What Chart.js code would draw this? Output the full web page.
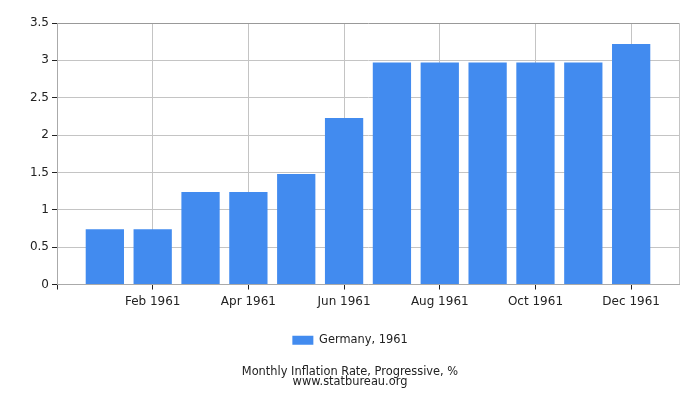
<!DOCTYPE html>
<html><head><meta charset="utf-8">
<script src="https://cdn.jsdelivr.net/npm/chart.js@4/dist/chart.umd.min.js"></script>
<style>html,body{margin:0;padding:0;background:#fff}#wrap{width:700px;height:400px}</style>
</head><body><div id="wrap"><canvas id="c" width="700" height="400"></canvas></div>
<script>
const months = ['Jan 1961','Feb 1961','Mar 1961','Apr 1961','May 1961','Jun 1961','Jul 1961','Aug 1961','Sep 1961','Oct 1961','Nov 1961','Dec 1961'];
const values = [0.74,0.74,1.24,1.24,1.48,2.23,2.97,2.97,2.97,2.97,2.97,3.22];
const xTickPositions = [-1,1,3,5,7,9,11,12];
const yTicks = [0,0.5,1,1.5,2,2.5,3,3.5];
const seriesLabel = 'Germany, 1961';
const titleLines = ['Monthly Inflation Rate, Progressive, %','www.statbureau.org'];

Chart.defaults.font.family = "'DejaVu Sans', sans-serif";
Chart.defaults.color = '#222';

new Chart(document.getElementById('c'), {
  type: 'bar',
  data: {
    datasets: [{
      label: seriesLabel,
      data: values.map((v, i) => ({x: i, y: v})),
      backgroundColor: '#428BEF',
      borderWidth: 0,
      barPercentage: 1,
      categoryPercentage: 0.8
    }]
  },
  options: {
    responsive: false,
    animation: false,
    devicePixelRatio: 1,
    layout: {padding: {top: 23, right: 0, left: 0, bottom: 13}},
    plugins: {
      tooltip: {enabled: false},
      legend: {
        position: 'bottom',
        labels: {boxWidth: 21, boxHeight: 9, font: {size: 11.4}, padding: 14, color: '#222'}
      },
      title: {
        display: true,
        position: 'bottom',
        text: titleLines,
        font: {size: 11.4, weight: 'normal', lineHeight: 0.88},
        color: '#222',
        padding: {top: 11, bottom: 0}
      }
    },
    scales: {
      x: {
        type: 'linear',
        min: -1,
        max: 12,
        offset: false,
        afterBuildTicks: s => { s.ticks = xTickPositions.map(v => ({value: v})); },
        afterFit: s => { s.height = 36; },
        ticks: {
          autoSkip: false,
          maxRotation: 0,
          padding: 5,
          font: {size: 12},
          color: '#222',
          callback: v => (v >= 0 && v < months.length) ? months[v] : ''
        },
        grid: {
          offset: false,
          color: ctx => (ctx.tick && ctx.tick.value === -1) ? 'rgba(0,0,0,0)' : '#c4c4c4',
          tickColor: ctx => (ctx.tick && ctx.tick.value === 12) ? 'rgba(0,0,0,0)' : '#222',
          tickLength: 5
        },
        border: {color: '#aaa'}
      },
      y: {
        min: 0,
        max: 3.5,
        afterBuildTicks: s => { s.ticks = yTicks.map(v => ({value: v})); },
        afterFit: s => { s.width = 57; },
        ticks: {padding: 3, font: {size: 12}, color: '#222', callback: v => String(v)},
        grid: {
          color: ctx => (ctx.tick && ctx.tick.value === 3.5) ? '#999' : '#c4c4c4',
          tickColor: '#222',
          tickLength: 5
        },
        border: {color: '#aaa'}
      },
      yRight: {
        type: 'linear',
        position: 'right',
        display: true,
        afterFit: s => { s.width = 21; },
        ticks: {display: false},
        grid: {display: false, drawOnChartArea: false},
        border: {display: false}
      }
    }
  }
});
</script></body></html>
